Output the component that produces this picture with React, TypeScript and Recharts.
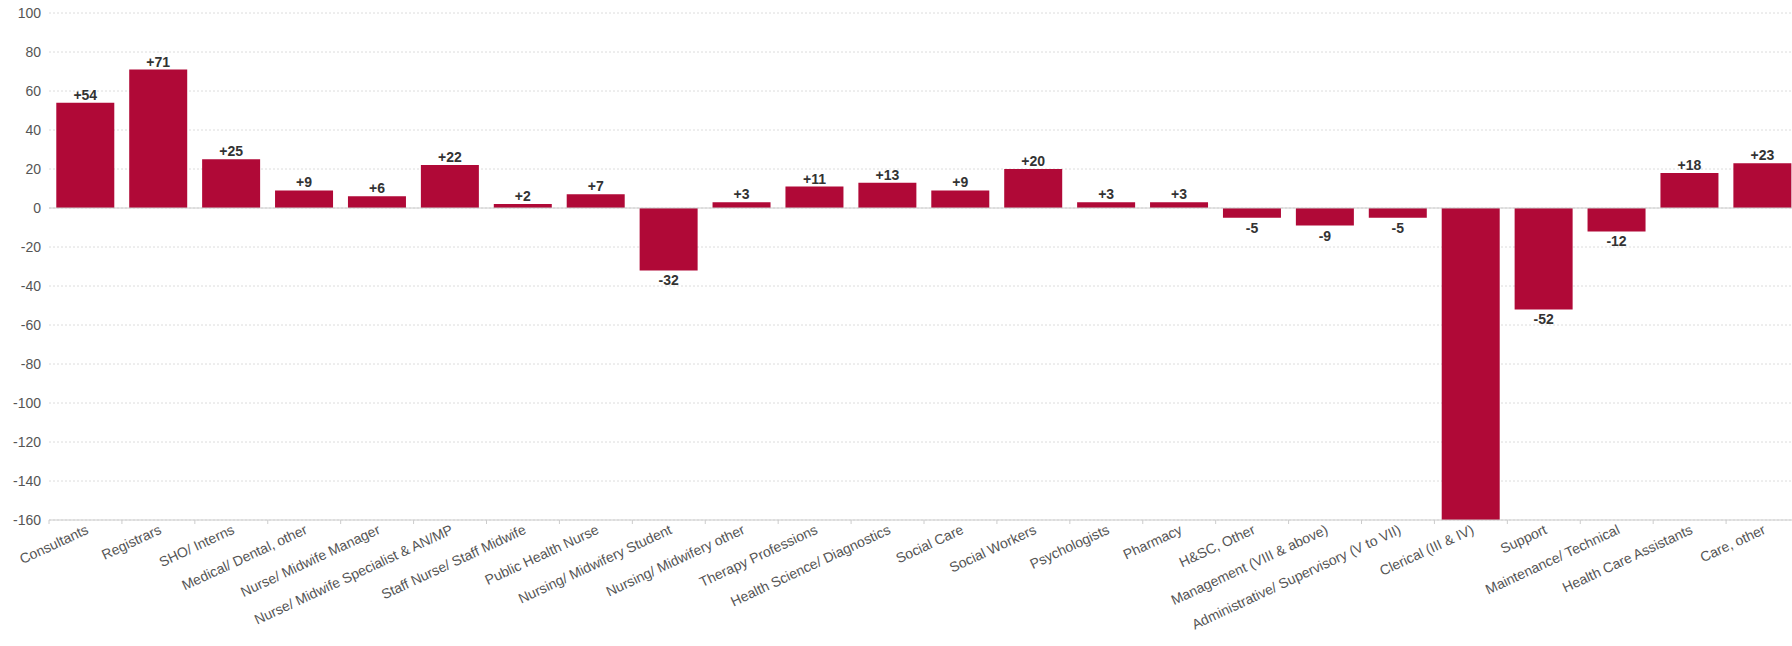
import { Bar, BarChart, CartesianGrid, LabelList, ReferenceLine, XAxis, YAxis } from 'recharts'

const categories = [
  'Consultants',
  'Registrars',
  'SHO/ Interns',
  'Medical/ Dental, other',
  'Nurse/ Midwife Manager',
  'Nurse/ Midwife Specialist & AN/MP',
  'Staff Nurse/ Staff Midwife',
  'Public Health Nurse',
  'Nursing/ Midwifery Student',
  'Nursing/ Midwifery other',
  'Therapy Professions',
  'Health Science/ Diagnostics',
  'Social Care',
  'Social Workers',
  'Psychologists',
  'Pharmacy',
  'H&SC, Other',
  'Management (VIII & above)',
  'Administrative/ Supervisory (V to VII)',
  'Clerical (III & IV)',
  'Support',
  'Maintenance/ Technical',
  'Health Care Assistants',
  'Care, other',
]

const changes = [54, 71, 25, 9, 6, 22, 2, 7, -32, 3, 11, 13, 9, 20, 3, 3, -5, -9, -5, -160, -52, -12, 18, 23]

const yTicks = [100, 80, 60, 40, 20, 0, -20, -40, -60, -80, -100, -120, -140, -160]

const Y_MIN = -160
const Y_MAX = 100

const data = categories.map((name, i) => ({ name, change: changes[i] }))

const BAR = '#b00937'
const FONT = '"Liberation Sans", Arial, sans-serif'

// tick labels sit at band centres, tick marks at band edges
function CategoryTick({ x, y, payload }: any) {
  const half = payload.offset ?? 0
  return (
    <g>
      <line x1={x - half} x2={x - half} y1={y - 8} y2={y - 4} stroke="#ccc" />
      <g transform={`translate(${x + 4},${y + 5})`}>
        <text textAnchor="end" transform="rotate(-25)" fontSize={14} fill="#555" fontFamily={FONT}>
          {payload.value}
        </text>
      </g>
    </g>
  )
}

function ValueLabel({ x, y, width, height, value }: any) {
  if (value <= Y_MIN) return null
  const top = Math.min(y, y + height)
  const bottom = Math.max(y, y + height)
  const text = value > 0 ? `+${value}` : `${value}`
  return (
    <text
      x={x + width / 2}
      y={value >= 0 ? top - 3 : bottom + 15}
      textAnchor="middle"
      fontSize={14}
      fontWeight="bold"
      fill="#333"
      fontFamily={FONT}
    >
      {text}
    </text>
  )
}

export default function App() {
  return (
    <div style={{ position: 'absolute', left: 0, top: 0, width: 1792, height: 646, overflow: 'hidden', background: '#fff' }}>
      <BarChart
        width={1800}
        height={646}
        data={data}
        margin={{ top: 13, right: 1, left: 0, bottom: 0 }}
        barCategoryGap="10%"
      >
        <CartesianGrid vertical={false} stroke="#dcdcdc" strokeDasharray="2 2" />
        <XAxis
          dataKey="name"
          interval={0}
          height={126}
          tickLine={false}
          axisLine={{ stroke: '#ccc' }}
          tick={<CategoryTick />}
        />
        <YAxis
          width={49}
          domain={[Y_MIN, Y_MAX]}
          ticks={yTicks}
          interval={0}
          tickLine={false}
          axisLine={false}
          tick={{ fontSize: 14, fill: '#555', fontFamily: FONT }}
        />
        <ReferenceLine y={0} stroke="#ccc" />
        <Bar dataKey="change" fill={BAR} isAnimationActive={false}>
          <LabelList dataKey="change" content={<ValueLabel />} />
        </Bar>
      </BarChart>
    </div>
  )
}
